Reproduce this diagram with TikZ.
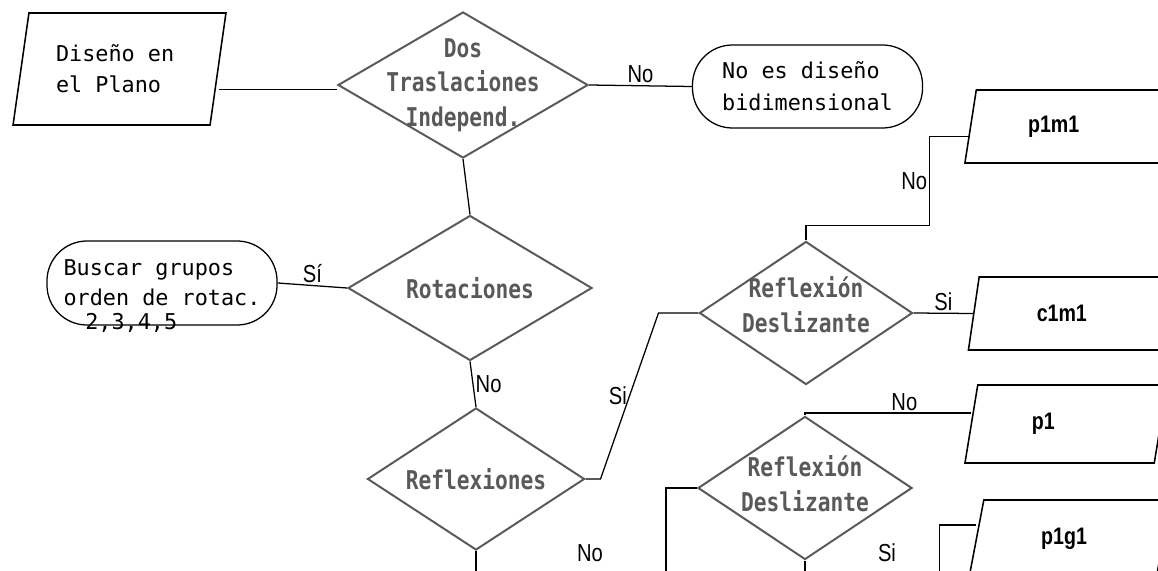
\documentclass[tikz,border=0pt]{standalone}
\usepackage{fontspec}
\setmainfont{Liberation Sans}
\newfontfamily\monofont{DejaVu Sans Mono}
\newfontfamily\diafont[FakeStretch=0.82]{DejaVu Sans Mono}
\newfontfamily\condfont[FakeStretch=0.82]{Liberation Sans}
\usetikzlibrary{shapes.geometric, positioning}

\begin{document}
\begin{tikzpicture}[
    x=0.025cm, y=-0.025cm,
    decision/.style={diamond, draw=black!65, line width=1.4pt, inner sep=0pt},
    dtext/.style={font=\diafont\bfseries\fontsize{18.4}{24.4}\selectfont, text=black!65, align=center},
    io/.style={trapezium, trapezium left angle=77, trapezium right angle=103, trapezium stretches=true, draw, line width=1.1pt, inner sep=0pt},
    result/.style={io, font=\condfont\bfseries\fontsize{17}{20}\selectfont},
    term/.style={rectangle, rounded corners=1cm, draw, line width=0.9pt, align=left, font=\monofont\fontsize{15.5}{22.7}\selectfont},
    link/.style={line width=0.9pt},
    tag/.style={font=\condfont\fontsize{17.5}{20}\selectfont, inner sep=1.5pt},
]
\useasboundingbox (0,0) rectangle (1158,571);
\clip (0,0) rectangle (1158,571);

% Input
\node[io, minimum width=5.325cm, minimum height=2.8cm, align=left, font=\monofont\fontsize{15.5}{22}\selectfont] (plano) at (119.5,69) {Diseño en\\el Plano\hspace*{1em}};

% Decisions
\node[decision, minimum width=6.25cm, minimum height=3.65cm, label={[dtext]center:Dos\\Traslaciones\\Independ.}] (dos) at (463,85) {};
\node[decision, minimum width=6.1cm, minimum height=3.625cm, label={[dtext]center:Rotaciones}] (rot) at (470,288) {};
\node[decision, minimum width=5.425cm, minimum height=3.55cm, label={[dtext]center:Reflexiones}] (refl) at (476,479) {};
\node[decision, minimum width=5.325cm, minimum height=3.575cm, label={[dtext, yshift=6pt]center:Reflexión\\Deslizante}] (gl1) at (806,313) {};
\node[decision, minimum width=5.35cm, minimum height=3.575cm, label={[dtext, yshift=3pt]center:Reflexión\\Deslizante}] (gl2) at (805,488) {};

% Terminals
\node[term, minimum width=5.75cm, minimum height=2.075cm] (noes) at (807.5,86.5) {No es diseño\\bidimensional};
\node[term, minimum width=5.75cm, minimum height=2.1cm, font=\monofont\fontsize{15.5}{21.3}\selectfont] (buscar) at (162,283) {Buscar grupos\\orden de rotac.};
\node[anchor=base west, inner sep=0pt, font=\monofont\fontsize{15.5}{18}\selectfont] (ordenes) at (85,329) {2,3,4,5};

% Groups
\node[result, minimum width=5.175cm, minimum height=1.825cm] (p1m1) at (1068,126.5) {p1m1\hspace*{1.2em}};
\node[result, minimum width=5.05cm, minimum height=1.825cm] (c1m1) at (1069,313.5) {c1m1\hspace*{0.6em}};
\node[result, minimum width=5.075cm, minimum height=1.95cm] (p1) at (1066,424) {p1\hspace*{1.9em}};
\node[result, minimum width=5.075cm, minimum height=1.95cm] (p1g1) at (1070,539) {p1g1\hspace*{0.5em}};

% Connectors
\draw[link] ([yshift=-3pt]plano.east |- dos.west) -- ([yshift=-3pt]dos.west);
\draw[link] (dos.east) -- node[tag, above]{No} (noes.west);
\draw[link] (dos.south) -- (rot.north);
\draw[link] (rot.west) -- node[tag, above]{Sí} (buscar.east);
\draw[link] (rot.south) -- node[tag, right]{No} (refl.north);
\draw[link] (refl.east) -- ++(15,0) -- node[tag, left]{Si} ([xshift=-1cm]gl1.west) -- (gl1.west);
\draw[link] (gl1.north) -- ++(0,-15) -| node[tag, pos=0.75, left]{No} ([xshift=-1cm, yshift=-0.25cm]p1m1.west) -- ([yshift=-0.25cm]p1m1.west);
\draw[link] (gl1.east) -- node[tag, above]{Si} (c1m1.west);
\draw[link] (gl2.north) |- node[tag, pos=0.8, above]{No} ([yshift=0.275cm]p1.west);
\draw[link] (refl.south) -- ++(0,40) -| ([xshift=-0.775cm]gl2.west) -- (gl2.west);
\draw[link] (gl2.south) -- ++(0,40) -| ([xshift=-0.9cm, yshift=0.35cm]p1g1.west) -- ([yshift=0.35cm]p1g1.west);

% Labels near the cut edge
\node[tag] (no4) at (590,553) {No};
\node[tag] (si4) at (887,553) {Si};

\end{tikzpicture}
\end{document}
